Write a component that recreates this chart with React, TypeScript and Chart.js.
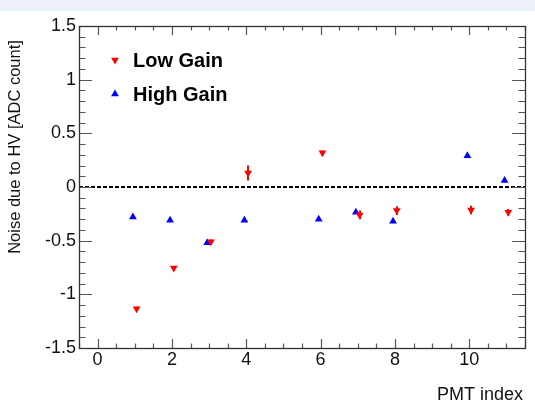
import React, { useEffect, useRef } from "react";
import { Chart, registerables } from "chart.js";

Chart.register(...registerables);

// ---- data ----
const lowGainX = [1.05, 2.05, 3.05, 4.05, 6.05, 7.05, 8.05, 10.05, 11.05];
const lowGainY = [-1.135, -0.755, -0.51, 0.13, 0.32, -0.26, -0.22, -0.215, -0.235];
const lowGainErr = [0.02, 0.02, 0.02, 0.07, 0.02, 0.04, 0.04, 0.04, 0.03];
const highGainX = [0.95, 1.95, 2.95, 3.95, 5.95, 6.95, 7.95, 9.95, 10.95];
const highGainY = [-0.28, -0.31, -0.52, -0.31, -0.3, -0.235, -0.32, 0.29, 0.06];

const xRange = [-0.5, 11.5];
const yRange = [-1.5, 1.5];
const xTickValues = [0, 2, 4, 6, 8, 10];
const yTickValues = [-1.5, -1, -0.5, 0, 0.5, 1, 1.5];
const xMinorStep = 0.5;
const yMinorStep = 0.1;

const legendLabels = ["Low Gain", "High Gain"];
const xTitle = "PMT index";
const yTitle = "Noise due to HV [ADC count]";

const RED = "#ff0000";
const BLUE = "#0000ff";
const FONT = "'Liberation Sans', Arial, sans-serif";

function triangle(ctx: CanvasRenderingContext2D, x: number, y: number, r: number, down: boolean, color: string) {
  const s = down ? -1 : 1;
  ctx.beginPath();
  ctx.moveTo(x, y - s * r);
  ctx.lineTo(x + r * 0.866, y + s * r * 0.5);
  ctx.lineTo(x - r * 0.866, y + s * r * 0.5);
  ctx.closePath();
  ctx.fillStyle = color;
  ctx.fill();
}

const framePlugin = {
  id: "rootFrame",
  beforeDraw(chart: any) {
    const ctx = chart.ctx as CanvasRenderingContext2D;
    ctx.save();
    ctx.fillStyle = "#ffffff";
    ctx.fillRect(0, 0, chart.width, chart.height);
    ctx.fillStyle = "#edf1fa";
    ctx.fillRect(0, 0, chart.width, 11);
    ctx.restore();
  },
  beforeDatasetsDraw(chart: any) {
    // error bars for low gain
    const ctx = chart.ctx as CanvasRenderingContext2D;
    const xs = chart.scales.x;
    const ys = chart.scales.y;
    ctx.save();
    ctx.strokeStyle = RED;
    ctx.lineWidth = 2;
    lowGainX.forEach((xv, i) => {
      const px = Math.round(xs.getPixelForValue(xv));
      ctx.beginPath();
      ctx.moveTo(px, ys.getPixelForValue(lowGainY[i] + lowGainErr[i]));
      ctx.lineTo(px, ys.getPixelForValue(lowGainY[i] - lowGainErr[i]));
      ctx.stroke();
    });
    ctx.restore();
  },
  afterDraw(chart: any) {
    const ctx = chart.ctx as CanvasRenderingContext2D;
    const a = chart.chartArea;
    const xs = chart.scales.x;
    const ys = chart.scales.y;
    ctx.save();
    // ticks (inward, all four sides)
    ctx.strokeStyle = "#555555";
    ctx.lineWidth = 1.2;
    const nx = Math.round((xRange[1] - xRange[0]) / xMinorStep);
    for (let i = 0; i <= nx; i++) {
      const v = xRange[0] + i * xMinorStep;
      const major = xTickValues.some((t) => Math.abs(t - v) < 1e-6);
      const len = major ? 9 : 4.5;
      const px = Math.round(xs.getPixelForValue(v)) + 0.5;
      ctx.beginPath();
      ctx.moveTo(px, a.bottom);
      ctx.lineTo(px, a.bottom - len);
      ctx.moveTo(px, a.top);
      ctx.lineTo(px, a.top + len);
      ctx.stroke();
    }
    const ny = Math.round((yRange[1] - yRange[0]) / yMinorStep);
    for (let i = 0; i <= ny; i++) {
      const v = yRange[0] + i * yMinorStep;
      const major = yTickValues.some((t) => Math.abs(t - v) < 1e-6);
      const len = major ? 13 : 6.5;
      const py = Math.round(ys.getPixelForValue(v)) + 0.5;
      ctx.beginPath();
      ctx.moveTo(a.left, py);
      ctx.lineTo(a.left + len, py);
      ctx.moveTo(a.right, py);
      ctx.lineTo(a.right - len, py);
      ctx.stroke();
    }
    // frame
    ctx.strokeStyle = "#333333";
    ctx.lineWidth = 1.3;
    ctx.strokeRect(a.left + 0.5, a.top + 0.5, a.right - a.left, a.bottom - a.top);

    // legend
    const lx = a.left + 36;
    const ly1 = a.top + 34;
    const ly2 = a.top + 68;
    triangle(ctx, lx, ly1, 4.5, true, RED);
    triangle(ctx, lx, ly2, 4.5, false, BLUE);
    ctx.fillStyle = "#000000";
    ctx.font = `bold 20px ${FONT}`;
    ctx.textAlign = "left";
    ctx.textBaseline = "middle";
    ctx.fillText(legendLabels[0], lx + 18, ly1 + 1);
    ctx.fillText(legendLabels[1], lx + 18, ly2 + 1);

    // axis titles
    ctx.font = `18px ${FONT}`;
    ctx.fillStyle = "#111111";
    ctx.textAlign = "right";
    ctx.textBaseline = "middle";
    ctx.fillText(xTitle, a.right - 2, 395);

    ctx.save();
    ctx.translate(15, 147);
    ctx.rotate(-Math.PI / 2);
    ctx.font = `16.5px ${FONT}`;
    ctx.textAlign = "center";
    ctx.textBaseline = "middle";
    ctx.fillText(yTitle, 0, 0);
    ctx.restore();

    ctx.restore();
  },
};

export default function App() {
  const ref = useRef<HTMLCanvasElement | null>(null);

  useEffect(() => {
    document.body.style.margin = "0";
    const canvas = ref.current;
    if (!canvas) return;
    const chart = new Chart(canvas, {
      type: "scatter",
      data: {
        datasets: [
          {
            type: "line",
            label: "zero",
            data: [
              { x: xRange[0], y: 0 },
              { x: xRange[1], y: 0 },
            ],
            borderColor: "#000000",
            borderWidth: 2,
            borderDash: [4, 2],
            pointRadius: 0,
            order: 3,
          } as any,
          {
            label: legendLabels[0],
            data: lowGainX.map((x, i) => ({ x, y: lowGainY[i] })),
            pointStyle: "triangle",
            rotation: 180,
            pointRadius: 4.5,
            backgroundColor: RED,
            borderColor: RED,
            borderWidth: 0,
            order: 0,
          },
          {
            label: legendLabels[1],
            data: highGainX.map((x, i) => ({ x, y: highGainY[i] })),
            pointStyle: "triangle",
            pointRadius: 4.5,
            backgroundColor: BLUE,
            borderColor: BLUE,
            borderWidth: 0,
            order: 1,
          },
        ],
      },
      options: {
        responsive: false,
        maintainAspectRatio: false,
        devicePixelRatio: 1,
        animation: false,
        layout: { padding: { top: 26, right: 10, left: 0, bottom: 0 } },
        plugins: { legend: { display: false }, tooltip: { enabled: false } },
        scales: {
          x: {
            type: "linear",
            min: xRange[0],
            max: xRange[1],
            grid: { display: false, drawTicks: false },
            border: { display: false },
            ticks: {
              font: { family: FONT, size: 18 },
              color: "#111111",
              padding: 1,
              maxRotation: 0,
              callback: (v: any) => String(v),
            },
            afterBuildTicks: (s: any) => {
              s.ticks = xTickValues.map((value) => ({ value }));
            },
            afterFit: (s: any) => {
              s.height = 53;
            },
          },
          y: {
            type: "linear",
            min: yRange[0],
            max: yRange[1],
            grid: { display: false, drawTicks: false },
            border: { display: false },
            ticks: {
              font: { family: FONT, size: 18 },
              color: "#111111",
              padding: 3,
              callback: (v: any) => String(v),
            },
            afterBuildTicks: (s: any) => {
              s.ticks = yTickValues.map((value) => ({ value }));
            },
            afterFit: (s: any) => {
              s.width = 79;
            },
          },
        },
      },
      plugins: [framePlugin],
    });
    return () => chart.destroy();
  }, []);

  return (
    <div style={{ position: "fixed", left: 0, top: 0 }}>
      <canvas ref={ref} width={535} height={401} style={{ width: 535, height: 401, display: "block" }} />
    </div>
  );
}
